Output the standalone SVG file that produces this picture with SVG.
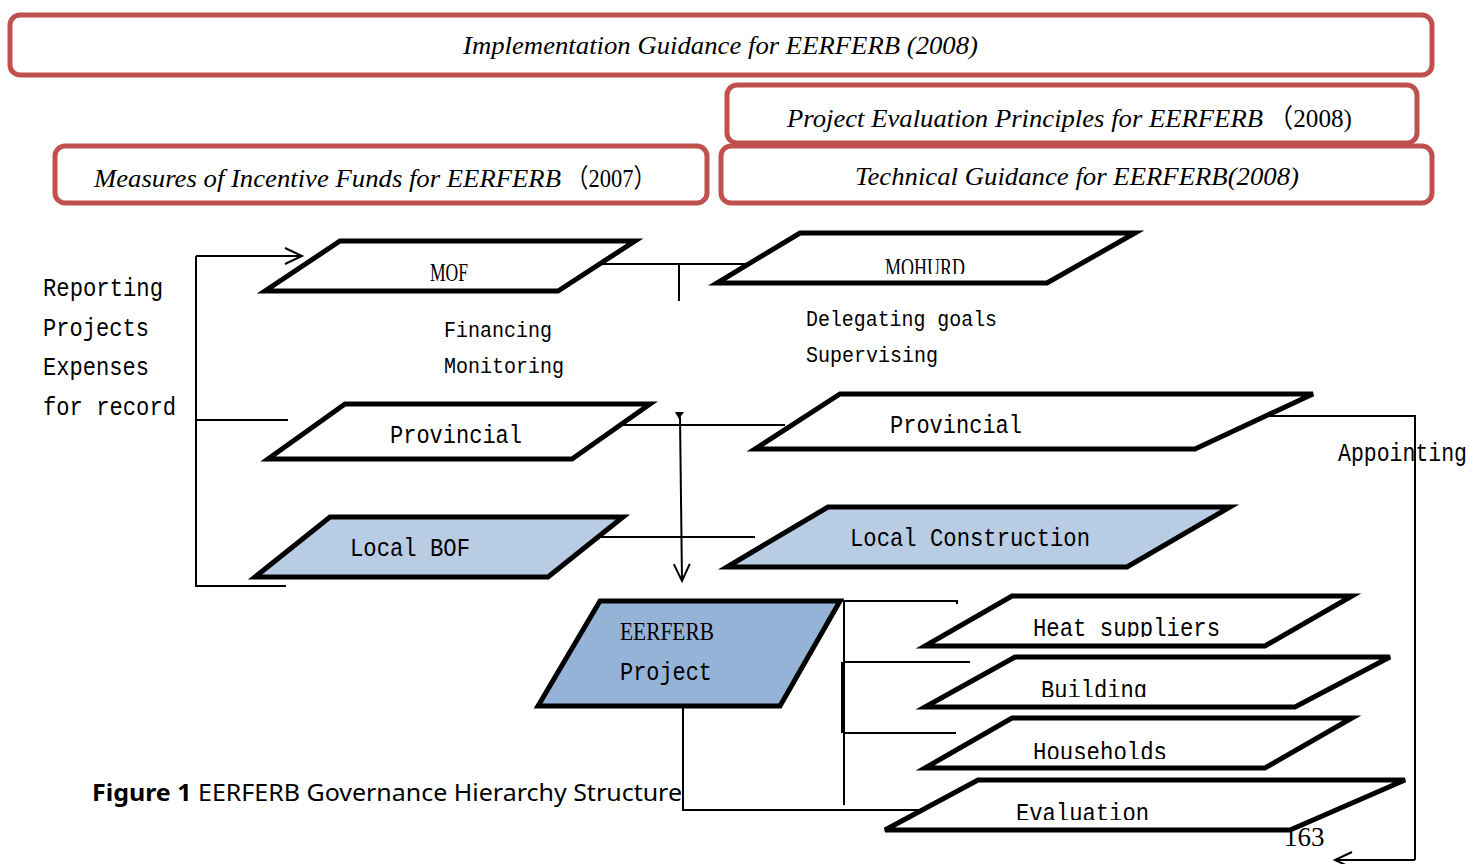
<svg xmlns="http://www.w3.org/2000/svg" width="1475" height="864" viewBox="0 0 1475 864">
<style>
.law{fill:#fff;stroke:#C0504D;stroke-width:5}
.lawt{font-family:"Liberation Serif",serif;font-style:italic;font-size:26px;fill:#000}
.paren{font-family:"Liberation Serif","Noto Sans CJK SC",serif;font-size:26px;fill:#000}
.node{fill:#fff;stroke:#000;stroke-width:5;stroke-linejoin:miter}
.light{fill:#B8CCE4}
.mid{fill:#95B3D7}
.lbl{font-family:"Liberation Mono",monospace;font-size:25px;fill:#000}
.sm{font-family:"Liberation Mono",monospace;font-size:22px;fill:#000}
.cond{font-family:"Liberation Serif",serif;font-size:26px;fill:#000}
.ln{fill:none;stroke:#000;stroke-width:2}
</style>
<defs>
<marker id="open" markerUnits="userSpaceOnUse" markerWidth="22" markerHeight="20" refX="18" refY="9" orient="auto">
<path d="M1,1 L18,9 L1,17" fill="none" stroke="#000" stroke-width="2"/>
</marker>
<clipPath id="cMoh"><rect x="700" y="240" width="400" height="34"/></clipPath>
<clipPath id="cHeat"><rect x="900" y="600" width="500" height="37"/></clipPath>
<clipPath id="cBld"><rect x="900" y="660" width="500" height="37"/></clipPath>
<clipPath id="cHh"><rect x="900" y="722" width="500" height="37"/></clipPath>
<clipPath id="cEv"><rect x="880" y="783" width="500" height="37"/></clipPath>
</defs>

<g id="law-implementation">
<rect class="law" x="10" y="15" width="1422" height="60" rx="10"/>
<text class="lawt" x="463" y="54" textLength="515" lengthAdjust="spacingAndGlyphs">Implementation Guidance for EERFERB (2008)</text>
</g>
<g id="law-evaluation">
<rect class="law" x="727" y="85" width="690" height="58" rx="10"/>
<text class="lawt" x="787" y="127" textLength="476" lengthAdjust="spacingAndGlyphs">Project Evaluation Principles for EERFERB</text>
<text class="paren" x="1268" y="127" textLength="84" lengthAdjust="spacingAndGlyphs">（2008)</text>
</g>
<g id="law-measures">
<rect class="law" x="55" y="146" width="652" height="57" rx="10"/>
<text class="lawt" x="94" y="187" textLength="467" lengthAdjust="spacingAndGlyphs">Measures of Incentive Funds for EERFERB</text>
<text class="paren" x="566" y="187" textLength="90" lengthAdjust="spacingAndGlyphs">（2007）</text>
</g>
<g id="law-technical">
<rect class="law" x="721" y="146" width="711" height="57" rx="10"/>
<text class="lawt" x="855" y="185" textLength="444" lengthAdjust="spacingAndGlyphs">Technical Guidance for EERFERB(2008)</text>
</g>

<g id="connectors">
<polyline class="ln" points="288,420 196,420 196,586 286,586"/>
<line class="ln" x1="196" y1="420" x2="196" y2="256"/>
<line class="ln" x1="196" y1="256" x2="302" y2="256" marker-end="url(#open)"/>
<line class="ln" x1="600" y1="264" x2="760" y2="264"/>
<line class="ln" x1="679" y1="264" x2="679" y2="301"/>
<line class="ln" x1="620" y1="425" x2="785" y2="425"/>
<polygon points="675,412 684,412 679,419" fill="#000"/>
<line class="ln" x1="680" y1="417" x2="682" y2="581" marker-end="url(#open)"/>
<line class="ln" x1="598" y1="537" x2="755" y2="537"/>
<polyline class="ln" points="840,601 957,601 957,604"/>
<line class="ln" x1="844" y1="601" x2="844" y2="805"/>
<line class="ln" x1="842" y1="662" x2="842" y2="733"/>
<line class="ln" x1="843" y1="662" x2="970" y2="662"/>
<line class="ln" x1="843" y1="733" x2="956" y2="733"/>
<polyline class="ln" points="683,706 683,810 930,810"/>
<polyline class="ln" points="1230,416 1415,416 1415,860"/>
<line class="ln" x1="1415" y1="860" x2="1335" y2="860" marker-end="url(#open)"/>
</g>

<g id="node-mof">
<polygon class="node" points="340,241 635,241 558,291 265,291"/>
<text class="cond" x="430" y="281" textLength="38" lengthAdjust="spacingAndGlyphs">MOF</text>
</g>
<g id="node-mohurd">
<polygon class="node" points="800,233 1135,233 1047,283 717,283"/>
<text class="cond" x="885" y="276" textLength="80" lengthAdjust="spacingAndGlyphs" clip-path="url(#cMoh)">MOHURD</text>
</g>
<g id="node-provincial-left">
<polygon class="node" points="345,404 650,404 572,459 268,459"/>
<text class="lbl" x="390" y="443" textLength="132" lengthAdjust="spacingAndGlyphs">Provincial</text>
</g>
<g id="node-provincial-right">
<polygon class="node" points="840,394 1313,394 1195,449 755,449"/>
<text class="lbl" x="890" y="433" textLength="132" lengthAdjust="spacingAndGlyphs">Provincial</text>
</g>
<g id="node-local-bof">
<polygon class="node light" points="330,517 623,517 548,577 255,577"/>
<text class="lbl" x="350" y="556" textLength="120" lengthAdjust="spacingAndGlyphs">Local BOF</text>
</g>
<g id="node-local-construction">
<polygon class="node light" points="828,507 1230,507 1127,567 727,567"/>
<text class="lbl" x="850" y="546" textLength="240" lengthAdjust="spacingAndGlyphs">Local Construction</text>
</g>
<g id="node-project">
<polygon class="node mid" points="600,601 840,601 780,706 538,706"/>
<text class="cond" x="620" y="640" textLength="94" lengthAdjust="spacingAndGlyphs">EERFERB</text>
<text class="lbl" x="620" y="680" textLength="92" lengthAdjust="spacingAndGlyphs">Project</text>
</g>
<g id="node-heat">
<polygon class="node" points="1012,596 1352,596 1265,646 925,646"/>
<text class="lbl" x="1033" y="636" textLength="187" lengthAdjust="spacingAndGlyphs" clip-path="url(#cHeat)">Heat suppliers</text>
</g>
<g id="node-building">
<polygon class="node" points="1015,657 1390,657 1295,707 925,707"/>
<text class="lbl" x="1041" y="698" textLength="106" lengthAdjust="spacingAndGlyphs" clip-path="url(#cBld)">Building</text>
</g>
<g id="node-households">
<polygon class="node" points="1012,718 1352,718 1265,768 925,768"/>
<text class="lbl" x="1033" y="760" textLength="134" lengthAdjust="spacingAndGlyphs" clip-path="url(#cHh)">Households</text>
</g>
<g id="node-evaluation">
<polygon class="node" points="978,780 1405,780 1290,830 885,830"/>
<text class="lbl" x="1016" y="821" textLength="133" lengthAdjust="spacingAndGlyphs" clip-path="url(#cEv)">Evaluation</text>
</g>

<g id="labels">
<text class="lbl" x="43" y="296" textLength="120" lengthAdjust="spacingAndGlyphs">Reporting</text>
<text class="lbl" x="43" y="336" textLength="106" lengthAdjust="spacingAndGlyphs">Projects</text>
<text class="lbl" x="43" y="375" textLength="106" lengthAdjust="spacingAndGlyphs">Expenses</text>
<text class="lbl" x="43" y="415" textLength="133" lengthAdjust="spacingAndGlyphs">for record</text>
<text class="sm" x="444" y="337" textLength="108" lengthAdjust="spacingAndGlyphs">Financing</text>
<text class="sm" x="444" y="373" textLength="120" lengthAdjust="spacingAndGlyphs">Monitoring</text>
<text class="sm" x="806" y="326" textLength="191" lengthAdjust="spacingAndGlyphs">Delegating goals</text>
<text class="sm" x="806" y="362" textLength="132" lengthAdjust="spacingAndGlyphs">Supervising</text>
<text class="lbl" x="1338" y="461" textLength="129" lengthAdjust="spacingAndGlyphs">Appointing</text>
<text x="92" y="801" font-family="'Noto Sans',sans-serif" font-size="24" fill="#000" textLength="590" lengthAdjust="spacingAndGlyphs"><tspan font-weight="bold">Figure 1</tspan> EERFERB Governance Hierarchy Structure</text>
<text x="1284" y="846" font-family="'Liberation Serif',serif" font-size="27" fill="#000">163</text>
</g>
</svg>
